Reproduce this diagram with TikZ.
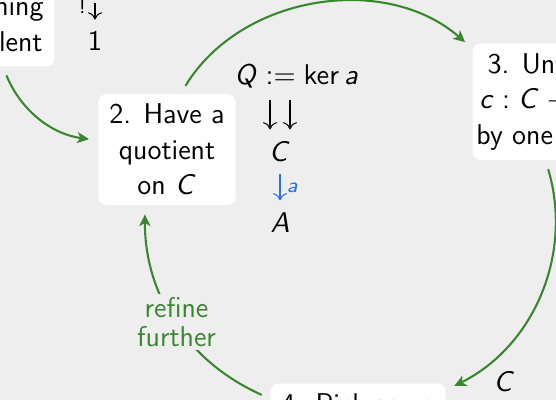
\documentclass[tikz,border=0pt]{standalone}
\usepackage{amsmath}
\usetikzlibrary{positioning, arrows.meta, calc}
\renewcommand{\familydefault}{\sfdefault}
% sans serif math, slanted letters
\SetSymbolFont{letters}{normal}{OT1}{cmss}{m}{sl}
\SetSymbolFont{operators}{normal}{OT1}{cmss}{m}{n}
\definecolor{bgcol}{RGB}{238,238,238}
\definecolor{cycgreen}{RGB}{56,134,46}
\definecolor{mapblue}{RGB}{38,110,235}

\begin{document}
\begin{tikzpicture}[x=3.846pt, y=3.846pt,
  font=\fontsize{11}{13.6}\selectfont,
  stepbox/.style={fill=white, rounded corners=3pt, inner xsep=4.2pt, inner ysep=3.8pt, align=center},
  cyc/.style={cycgreen, line width=0.8pt, -{Stealth[length=4.5pt, width=4.3pt, inset=1.2pt]}, shorten <=3.5pt, shorten >=3.5pt},
  mapto/.style={line width=0.4pt, -{To[length=2.8pt, width=5.4pt]}, shorten <=4.3pt, shorten >=4.7pt},
  mathlbl/.style={inner sep=0pt, anchor=base},
  smalllbl/.style={font=\fontsize{8}{9.5}\selectfont}]

  % Background and visible window
  \fill[bgcol] (0,0) rectangle (55.6,-40);
  \useasboundingbox (0,0) rectangle (55.6,-40);
  \clip (0,0) rectangle (55.6,-40);

  % Steps of the cycle
  \node[stepbox, anchor=south east] (make) at (5.5,-6.7) {1. Make\\everything\\equivalent};
  \node[stepbox] (have) at (16.7,-14.95) {2. Have a\\quotient\\on $C$};
  \node[stepbox, anchor=north west, inner xsep=1.5pt] (unfold) at (47.2,-4.3) {3. Unfold\\$c : C \to Q$\\by one step};
  \node[stepbox, anchor=north west] (pick) at (27.0,-38.3) {4. Pick some};

  % Maps written beside the steps
  \coordinate (bangtop) at (9.5,0.8);
  \node[mathlbl] (one) at (9.5,-5.1) {$1$};
  \node[mathlbl] (kerq) at (29.65,-8.5) {$Q := \ker a$};
  \node[mathlbl] (cc) at (28.0,-16.2) {$C$};
  \node[mathlbl] (aa) at (28.0,-23.3) {$A$};

  \draw[mapto] (bangtop) -- (one) node[pos=0.35, left, smalllbl] {$!$};
  \draw[mapto] ($(kerq.south -| cc.north)+(-1,0)$) -- ($(cc.north)+(-1,0)$);
  \draw[mapto] ($(kerq.south -| cc.north)+(1,0)$) -- ($(cc.north)+(1,0)$);
  \draw[mapto, mapblue] (cc) -- (aa) node[midway, right, smalllbl, inner sep=2.5pt] {$a$};

  % The cycle
  \draw[cyc] ([xshift=-20pt]make.south east) to[bend right=30] ([yshift=3.5pt]have.west);
  \draw[cyc] ([xshift=5.3pt]have.north) to[bend left=50] ([yshift=-2pt]unfold.north west);
  \draw[cyc] ([xshift=28.3pt]unfold.south west) to[bend left=40]
    node[pos=0.9, right=5pt, yshift=-2.3pt, text=black] {$C$} ([yshift=-2.7pt]pick.north east);
  \draw[cyc] ([yshift=-6pt]pick.north west) to[bend left=33]
    node[fill=bgcol, text=cycgreen, inner sep=1.3pt, align=center, font=\fontsize{11}{11.3}\selectfont] {refine\\further}
    ([xshift=-8.5pt]have.south);
\end{tikzpicture}
\end{document}
